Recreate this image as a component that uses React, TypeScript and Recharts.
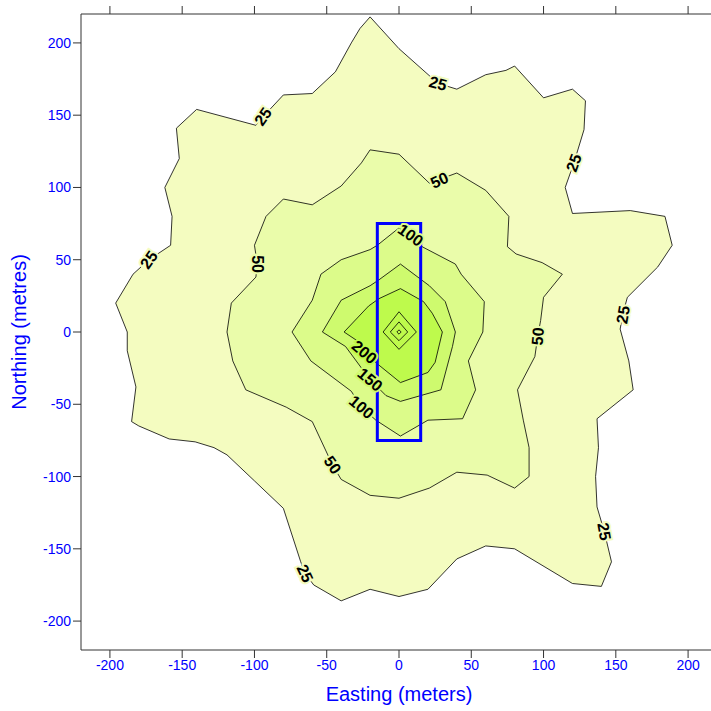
import React from 'react';
import { ScatterChart, Scatter, XAxis, YAxis, Curve, Label } from 'recharts';

// tick values shared by all axes
const ticks = [-200, -150, -100, -50, 0, 50, 100, 150, 200];

// contour outlines, [easting, northing] in metres
const level25 = [
  [-20, 218], [0, 196], [27, 172], [40, 168], [60, 178], [74, 181], [80, 184], [100, 162],
  [120, 168], [129, 160], [128, 140], [121, 117], [115, 100], [120, 82], [160, 84], [184, 80],
  [189, 60], [179, 45], [158, 24], [155, 13], [153, 2], [159, -20], [162, -40], [137, -60],
  [138, -80], [136, -100], [137, -121], [142, -138], [147, -159], [140, -176], [120, -174],
  [80, -150], [60, -148], [40, -157], [20, -178], [0, -183], [-20, -178], [-40, -186],
  [-59, -175], [-65, -167], [-68, -159], [-80, -122], [-100, -103], [-119, -85], [-128, -80],
  [-141, -76], [-159, -74], [-180, -65], [-185, -62], [-182, -38], [-188, -13], [-188, 0],
  [-196, 20], [-184, 40], [-173, 50], [-158, 60], [-157, 80], [-162, 100], [-152, 120],
  [-154, 141], [-140, 154], [-99, 143], [-94, 149], [-80, 164], [-60, 165], [-44, 180],
  [-33, 200], [-27, 210],
];

const level50 = [
  [-20, 126], [0, 123], [21, 103], [40, 110], [60, 98], [76, 80], [75, 59], [81, 54], [99, 48],
  [113, 40], [100, 24], [98, 8], [96, -3], [94, -17], [82, -40], [86, -61], [90, -80],
  [90, -100], [80, -108], [61, -99], [40, -97], [21, -108], [0, -115], [-20, -113], [-40, -102],
  [-46, -92], [-60, -62], [-78, -52], [-106, -40], [-115, -20], [-119, 0], [-116, 20],
  [-99, 38], [-98, 47], [-100, 60], [-92, 80], [-80, 92], [-60, 88], [-40, 101], [-26, 117],
];

const level100 = [
  [0, 72], [8, 67], [16, 59], [39, 47], [43, 40], [59, 21], [58, 0], [48, -20], [53, -40],
  [44, -60], [20, -61], [1, -72], [-16, -61], [-26, -52], [-33, -41], [-61, -20], [-74, 0],
  [-60, 22], [-54, 40], [-40, 50], [-20, 57], [-15, 60],
];

const level150 = [
  [1, 47], [-14, 36], [-20, 32], [-40, 22], [-53, 0], [-37, -10], [-20, -33], [-9, -44],
  [1, -48], [29, -40], [37, -10], [39, 0], [32, 21], [21, 32],
];

const level200 = [
  [1, 30], [-14, 23], [-21, 18], [-38, 0], [-29, -6], [-24, -14], [-15, -22], [1, -35],
  [20, -28], [25, -21], [30, 0], [23, 13], [17, 21],
];

const level250 = [[-11, 0], [0, 14], [12, 0], [0, -12]];
const level300 = [[-6, 0], [0, 7], [6, 0], [0, -6]];
const level350 = [[-1.5, 0], [0, 1.5], [1.5, 0], [0, -1.5]];

// study area box
const boxCorners = [[-15, 75], [15, 75], [15, -75], [-15, -75]];

const levelFills = ['#f4fcc0', '#eafcaa', '#dcfb8a', '#cefa6e', '#befa4c', '#befa4c', '#befa4c', '#befa4c'];

// contour labels: position, text, rotation
const contourLabels = [
  { x: 27, y: 172, text: '25', angle: 15, level: 0 },
  { x: 121, y: 117, text: '25', angle: -70, level: 0 },
  { x: 155, y: 12, text: '25', angle: -80, level: 0 },
  { x: 142, y: -138, text: '25', angle: 80, level: 0 },
  { x: -65, y: -167, text: '25', angle: 65, level: 0 },
  { x: -173, y: 50, text: '25', angle: -55, level: 0 },
  { x: -94, y: 149, text: '25', angle: -55, level: 0 },
  { x: 28, y: 105, text: '50', angle: -25, level: 1 },
  { x: 96, y: -3, text: '50', angle: -85, level: 1 },
  { x: -46, y: -92, text: '50', angle: 55, level: 1 },
  { x: -98, y: 47, text: '50', angle: 90, level: 1 },
  { x: 8, y: 67, text: '100', angle: 35, level: 2 },
  { x: -26, y: -52, text: '100', angle: 40, level: 2 },
  { x: -20, y: -33, text: '150', angle: 40, level: 3 },
  { x: -24, y: -14, text: '200', angle: 40, level: 4 },
];

const levels = [level25, level50, level100, level150, level200, level250, level300, level350];

const toPoints = (pts: number[][]) => pts.map(([x, y]) => ({ x, y }));

const polygonLine = (fill: string, stroke: string, width: number) => (p: any) => (
  <Curve points={p.points} type="linearClosed" fill={fill} stroke={stroke} strokeWidth={width} />
);

const noDot = () => <g />;

const font = "Arial, 'Liberation Sans', sans-serif";
const blue = '#0000ff';

const labelShape = (p: any) => {
  const d = p.payload;
  return (
    <text
      x={p.cx}
      y={p.cy}
      transform={`rotate(${d.angle} ${p.cx} ${p.cy})`}
      textAnchor="middle"
      dominantBaseline="central"
      fontFamily={font}
      fontSize={16}
      fontWeight="bold"
      fill="#000"
      stroke={levelFills[d.level]}
      strokeWidth={4}
      paintOrder="stroke"
    >
      {d.text}
    </text>
  );
};

export default function App() {
  return (
    <div style={{ position: 'fixed', left: 0, top: 0, width: 711, height: 711, overflow: 'hidden', background: '#fff' }}>
      <ScatterChart width={717} height={711} margin={{ top: 0, right: 0, bottom: 0, left: 0 }}>
        <XAxis
          xAxisId="top"
          orientation="top"
          type="number"
          dataKey="x"
          domain={[-220, 220]}
          ticks={ticks}
          height={14}
          tickSize={8}
          tickFormatter={() => ''}
          stroke="#333"
          allowDataOverflow
        />
        <XAxis
          type="number"
          dataKey="x"
          domain={[-220, 220]}
          ticks={ticks}
          height={61}
          tickSize={8}
          stroke="#333"
          tick={{ fill: blue, fontSize: 14, fontFamily: font }}
          allowDataOverflow
        >
          <Label
            content={() => (
              <text x={399} y={701} textAnchor="middle" fill={blue} fontSize={20} fontFamily={font}>
                Easting (meters)
              </text>
            )}
          />
        </XAxis>
        <YAxis
          type="number"
          dataKey="y"
          domain={[-220, 220]}
          ticks={ticks}
          width={81}
          tickSize={8}
          stroke="#333"
          tick={{ fill: blue, fontSize: 14, fontFamily: font }}
          allowDataOverflow
        >
          <Label
            content={() => (
              <text x={26} y={332} transform="rotate(-90 26 332)" textAnchor="middle" fill={blue} fontSize={20} fontFamily={font}>
                Northing (metres)
              </text>
            )}
          />
        </YAxis>
        {levels.map((lv, i) => (
          <Scatter
            key={i}
            data={toPoints(lv)}
            line={polygonLine(levelFills[i], '#000', 0.8)}
            shape={noDot}
            isAnimationActive={false}
          />
        ))}
        <Scatter
          data={toPoints(boxCorners)}
          line={polygonLine('none', blue, 3)}
          shape={noDot}
          isAnimationActive={false}
        />
        <Scatter data={contourLabels} shape={labelShape} isAnimationActive={false} />
      </ScatterChart>
    </div>
  );
}
